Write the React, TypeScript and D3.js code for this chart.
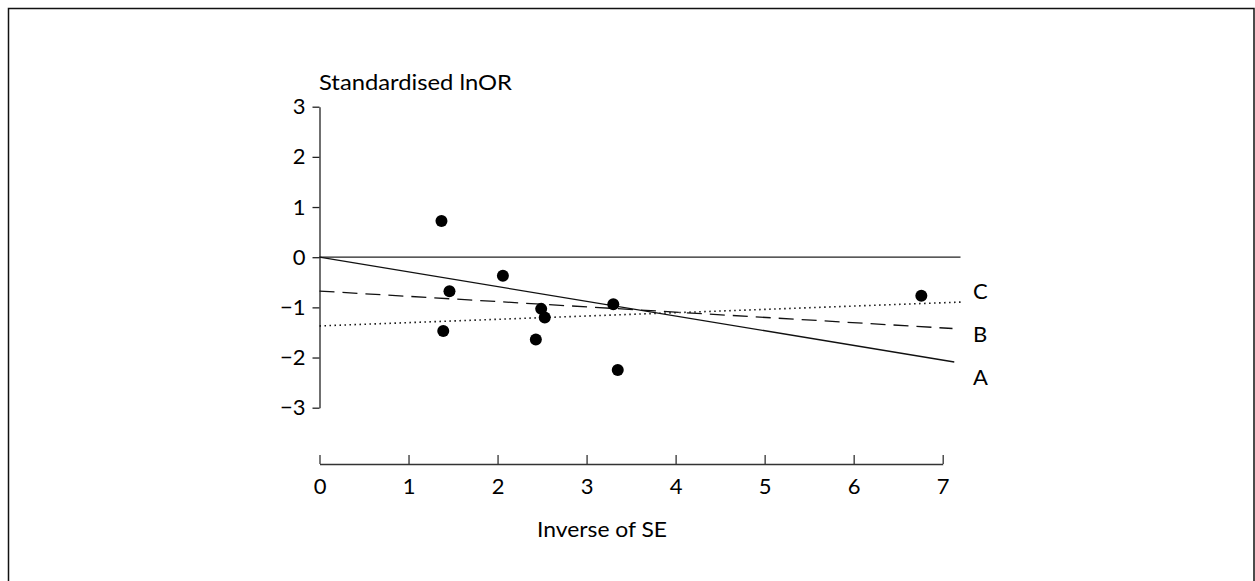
import React, { useEffect, useRef } from "react";
import * as d3 from "d3";

// study points: inverse of SE vs standardised lnOR
const invSE = [1.37, 1.46, 1.39, 2.06, 2.49, 2.53, 2.43, 3.3, 3.35, 6.76];
const stdLnOR = [0.72, -0.68, -1.47, -0.37, -1.03, -1.2, -1.64, -0.94, -2.25, -0.77];

// regression lines A, B, C
const lineNames = ["A", "B", "C"];
const lineIntercepts = [0, -0.675, -1.37];
const lineSlopes = [-0.293, -0.105, 0.066];
const lineEnds = [7.13, 7.11, 7.22];
const lineLabelY = [-2.37, -1.52, -0.66];

const xTicks = [0, 1, 2, 3, 4, 5, 6, 7];
const yTicks = [-3, -2, -1, 0, 1, 2, 3];

const FONT = "Lato, 'Open Sans', sans-serif";

const App = () => {
    const svgRef = useRef<SVGSVGElement>(null);

    useEffect(() => {
        const svg = d3.select(svgRef.current);
        svg.selectAll("*").remove();

        const width = 1255;
        const height = 581;

        const x = d3.scaleLinear().domain([0, 7]).range([319.5, 942.7]);
        const y = d3.scaleLinear().domain([-3, 3]).range([407.7, 106.7]);

        // outer frame
        svg.append("rect")
            .attr("x", 8.5)
            .attr("y", 8.5)
            .attr("width", 1245.5)
            .attr("height", 620)
            .attr("fill", "none")
            .attr("stroke", "#111")
            .attr("stroke-width", 1.5);

        // y axis
        const yAxis = svg.append("g")
            .attr("transform", `translate(${x(0)},0)`)
            .call(d3.axisLeft(y).tickValues(yTicks).tickSize(7).tickSizeOuter(0).tickPadding(7).tickFormat(d3.format("d")));
        yAxis.select(".domain").attr("stroke", "#222").attr("stroke-width", 1.3);
        yAxis.selectAll(".tick line").attr("stroke", "#222").attr("stroke-width", 1.3);
        yAxis.selectAll("text")
            .attr("fill", "#000")
            .style("font-family", FONT)
            .style("font-size", "22px");

        // x axis, ticks pointing up
        const xAxis = svg.append("g")
            .attr("transform", `translate(0,464)`)
            .call(d3.axisBottom(x).tickValues(xTicks).tickSize(-9).tickSizeOuter(0).tickPadding(14).tickFormat(d3.format("d")));
        xAxis.select(".domain").attr("stroke", "#333").attr("stroke-width", 1.5);
        xAxis.selectAll(".tick line").attr("stroke", "#333").attr("stroke-width", 1.3);
        xAxis.selectAll("text")
            .attr("fill", "#000")
            .style("font-family", FONT)
            .style("font-size", "22px");

        // zero line
        svg.append("line")
            .attr("x1", x(0))
            .attr("x2", x(7.2))
            .attr("y1", y(0))
            .attr("y2", y(0))
            .attr("stroke", "#222")
            .attr("stroke-width", 1.3);

        const dashes = [null, "15,8", "1.5,3.5"];
        lineNames.forEach((name, i) => {
            const line = d3.line<number>()
                .x((d) => x(d))
                .y((d) => y(lineIntercepts[i] + lineSlopes[i] * d));
            svg.append("path")
                .datum([0, lineEnds[i]])
                .attr("d", line)
                .attr("fill", "none")
                .attr("stroke", "#111")
                .attr("stroke-width", i === 2 ? 1.6 : 1.3)
                .attr("stroke-dasharray", dashes[i]);

            svg.append("text")
                .attr("x", x(7.34))
                .attr("y", y(lineLabelY[i]))
                .attr("dominant-baseline", "central")
                .style("font-family", FONT)
                .style("font-size", "22px")
                .text(name);
        });

        // points
        svg.selectAll("circle.pt")
            .data(invSE)
            .enter()
            .append("circle")
            .attr("class", "pt")
            .attr("cx", (d) => x(d))
            .attr("cy", (d, i) => y(stdLnOR[i]))
            .attr("r", 6)
            .attr("fill", "#000");

        // axis titles
        svg.append("text")
            .attr("x", 319)
            .attr("y", 90)
            .attr("textLength", 193)
            .attr("lengthAdjust", "spacingAndGlyphs")
            .style("font-family", FONT)
            .style("font-size", "21px")
            .text("Standardised lnOR");

        svg.append("text")
            .attr("x", 537)
            .attr("y", 537)
            .attr("textLength", 130)
            .attr("lengthAdjust", "spacingAndGlyphs")
            .style("font-family", FONT)
            .style("font-size", "21px")
            .text("Inverse of SE");

        svg.attr("width", width).attr("height", height);
    }, []);

    return (
        <div style={{ position: "absolute", left: 0, top: 0, background: "#fff" }}>
            <svg ref={svgRef}></svg>
        </div>
    );
};

export default App;
